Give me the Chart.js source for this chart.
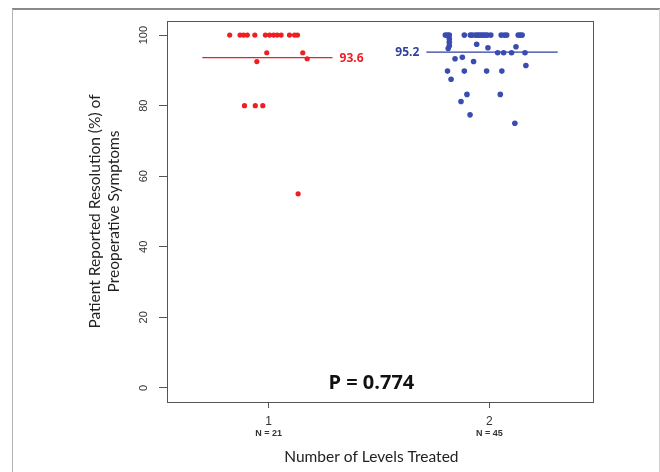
<!DOCTYPE html>
<html><head><meta charset="utf-8">
<script src="https://cdn.jsdelivr.net/npm/chart.js@4/dist/chart.umd.min.js"></script>
<style>html,body{margin:0;padding:0;background:#fff}#wrap{width:660px;height:472px;position:relative}</style>
</head><body><div id="wrap"><canvas id="c" width="660" height="472"></canvas></div>
<script>
// ---- data ----
const categories = [1, 2];
const categoryLabels = ['1', '2'];
const nLabels = ['N = 21', 'N = 45'];
const yTicks = [0, 20, 40, 60, 80, 100];
const means = [93.6, 95.2];
const meanLabels = ['93.6', '95.2'];
const meanSpanGroup1 = [0.70, 1.29];
const meanSpanGroup2 = [1.715, 2.31];
const pValueText = 'P = 0.774';
const xTitle = 'Number of Levels Treated';
const yTitle = ['Patient Reported Resolution (%) of', 'Preoperative Symptoms'];

// one level treated (jittered x positions, resolution %)
const oneLevelX = [0.824, 0.871, 0.887, 0.904, 0.938, 0.986, 1.005, 1.023, 1.039, 1.057, 1.095, 1.118, 1.131,
                   0.992, 1.155, 0.947, 1.175, 0.891, 0.940, 0.974, 1.134];
const oneLevelY = [100, 100, 100, 100, 100, 100, 100, 100, 100, 100, 100, 100, 100,
                   95, 95, 92.5, 93.3, 80, 80, 80, 55];

// two levels treated
const twoLevelX = [1.801, 1.810, 1.819, 1.887, 1.914, 1.923, 1.937, 1.946, 1.955, 1.964, 1.973, 1.982, 1.991, 2.007, 2.054, 2.068, 2.079, 2.131, 2.140, 2.149,
                   1.819, 1.819, 1.819, 1.814,
                   1.943, 1.994, 2.121,
                   2.038, 2.065, 2.101, 2.162,
                   1.845, 1.878, 1.929, 2.166,
                   1.811, 1.887, 1.988, 2.057,
                   1.827, 1.899, 2.050, 1.872, 1.913, 2.116];
const twoLevelY = [100, 100, 100, 100, 100, 100, 100, 100, 100, 100, 100, 100, 100, 100, 100, 100, 100, 100, 100, 100,
                   99, 98, 97, 96.2,
                   97.4, 96.4, 96.7,
                   95, 95, 95, 95,
                   93.3, 93.7, 92.5, 91.4,
                   89.8, 89.8, 89.8, 89.8,
                   87.5, 83.2, 83.2, 81.2, 77.4, 75];

const RED = '#f01e23';
const BLUE = '#3a4cb1';
const BLUE_LINE = '#2f3f9e';

const pts = (xs, ys) => xs.map((x, i) => ({x: x, y: ys[i]}));
const seg = (span, m) => span.map(x => ({x: x, y: m}));

const decor = {
  id: 'decor',
  beforeDraw(chart) {
    const ctx = chart.ctx;
    ctx.save();
    ctx.fillStyle = '#ffffff';
    ctx.fillRect(0, 0, chart.width, chart.height);
    ctx.fillStyle = '#8a8a8a';
    ctx.fillRect(12, 8, 648, 2);
    ctx.strokeStyle = '#b4b4b4';
    ctx.lineWidth = 1;
    ctx.beginPath();
    ctx.moveTo(12.5, 9); ctx.lineTo(12.5, chart.height);
    ctx.stroke();
    ctx.strokeStyle = '#d0d0d0';
    ctx.beginPath();
    ctx.moveTo(659.5, 9); ctx.lineTo(659.5, chart.height);
    ctx.stroke();
    ctx.restore();
  },
  afterDraw(chart) {
    const ctx = chart.ctx;
    const a = chart.chartArea;
    const xs = chart.scales.x, ys = chart.scales.y;
    ctx.save();
    ctx.strokeStyle = '#555';
    ctx.lineWidth = 1;
    ctx.strokeRect(Math.round(a.left) + 0.5, Math.round(a.top) + 0.5, Math.round(a.right - a.left), Math.round(a.bottom - a.top));
    // N labels
    ctx.fillStyle = '#333';
    ctx.font = "bold 9px 'Liberation Sans Narrow', 'Liberation Sans', sans-serif";
    ctx.textAlign = 'center';
    ctx.textBaseline = 'middle';
    categories.forEach((c, i) => ctx.fillText(nLabels[i], xs.getPixelForValue(c), a.bottom + 32));
    // x axis title
    ctx.fillStyle = '#222';
    ctx.font = "15.5px Lato, 'Open Sans', sans-serif";
    ctx.fillText(xTitle, xs.getPixelForValue(1.466), a.bottom + 55);
    // mean labels
    ctx.font = "bold 12px 'Open Sans', sans-serif";
    ctx.fillStyle = RED;
    ctx.textAlign = 'left';
    ctx.fillText(meanLabels[0], xs.getPixelForValue(meanSpanGroup1[1]) + 7, ys.getPixelForValue(means[0]) + 1);
    ctx.fillStyle = BLUE_LINE;
    ctx.textAlign = 'right';
    ctx.fillText(meanLabels[1], xs.getPixelForValue(meanSpanGroup2[0]) - 7, ys.getPixelForValue(means[1]) + 1);
    // p value
    ctx.fillStyle = '#111';
    ctx.font = "bold 20px 'Open Sans', sans-serif";
    ctx.textAlign = 'center';
    ctx.fillText(pValueText, xs.getPixelForValue(1.466), a.bottom - 19);
    ctx.restore();
  }
};

new Chart(document.getElementById('c'), {
  type: 'scatter',
  data: {
    datasets: [
      {data: pts(oneLevelX, oneLevelY), backgroundColor: RED, borderWidth: 0, pointRadius: 2.6, pointHoverRadius: 2.6},
      {data: pts(twoLevelX, twoLevelY), backgroundColor: BLUE, borderWidth: 0, pointRadius: 2.8, pointHoverRadius: 2.8},
      {data: seg(meanSpanGroup1, means[0]), showLine: true, borderColor: RED, borderWidth: 1.3, pointRadius: 0},
      {data: seg(meanSpanGroup2, means[1]), showLine: true, borderColor: BLUE_LINE, borderWidth: 1.3, pointRadius: 0}
    ]
  },
  options: {
    responsive: false,
    animation: false,
    devicePixelRatio: 1,
    layout: {padding: {left: 0, right: 67, top: 21, bottom: 0}},
    plugins: {legend: {display: false}, tooltip: {enabled: false}},
    scales: {
      x: {
        type: 'linear', min: 0.54, max: 2.47,
        afterBuildTicks: s => { s.ticks = categories.map(v => ({value: v})); },
        afterFit: s => { s.height = 70; },
        ticks: {
          callback: v => categoryLabels[categories.indexOf(v)],
          font: {family: "'Liberation Sans', sans-serif", size: 12},
          color: '#333', padding: 6, maxRotation: 0, autoSkip: false
        },
        grid: {drawOnChartArea: false, drawTicks: true, tickLength: 6, color: '#555'},
        border: {display: false},
        title: {display: false}
      },
      y: {
        type: 'linear', min: -4, max: 104,
        afterBuildTicks: s => { s.ticks = yTicks.map(v => ({value: v})); },
        afterFit: s => { s.width = 167; },
        ticks: {
          minRotation: 90, maxRotation: 90, crossAlign: 'center', padding: 6,
          font: {family: "'Liberation Sans', sans-serif", size: 11},
          color: '#333', autoSkip: false
        },
        grid: {drawOnChartArea: false, drawTicks: true, tickLength: 8, color: '#555'},
        border: {display: false},
        title: {display: true, text: yTitle, color: '#222',
                font: {family: "Lato, 'Open Sans', sans-serif", size: 15.5, lineHeight: 1.2},
                padding: {top: 86, bottom: 0}}
      }
    }
  },
  plugins: [decor]
});
</script>
</body></html>
